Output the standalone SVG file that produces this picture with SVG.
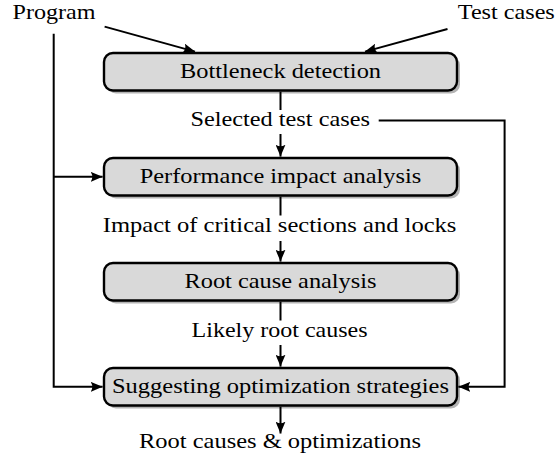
<svg xmlns="http://www.w3.org/2000/svg" width="556" height="460" viewBox="0 0 556 460">
<style>
.box{fill:#d9d9d9;stroke:#000;stroke-width:2.4}
.shadow{fill:#b3b3b3}
text{font-family:'Liberation Serif','DejaVu Serif',serif;font-size:21.5px;fill:#000;text-anchor:middle}
.c{fill:none;stroke:#000;stroke-width:2}
.a{marker-end:url(#ah)}
</style>
<defs>
<marker id="ah" viewBox="0 0 12 10" refX="12" refY="5" markerWidth="12" markerHeight="10" markerUnits="userSpaceOnUse" orient="auto">
<path d="M0,0 Q3.5,5 0,10 L12,5 Z" fill="#000"/>
</marker>
</defs>
<rect width="556" height="460" fill="#fff"/>
<g id="inputs">
<text x="54" y="18.5" textLength="83" lengthAdjust="spacingAndGlyphs">Program</text>
<text x="506.3" y="18.5" textLength="97" lengthAdjust="spacingAndGlyphs">Test cases</text>
</g>
<g id="n1">
<rect class="shadow" x="107" y="56" width="353" height="37.5" rx="9"/>
<rect class="box" x="104" y="53" width="353" height="37.5" rx="9"/>
<text x="280.5" y="77.5" textLength="201" lengthAdjust="spacingAndGlyphs">Bottleneck detection</text>
</g>
<g id="n2">
<rect class="shadow" x="107" y="161" width="353" height="37.5" rx="9"/>
<rect class="box" x="104" y="158" width="353" height="37.5" rx="9"/>
<text x="280.5" y="182.5" textLength="281.6" lengthAdjust="spacingAndGlyphs">Performance impact analysis</text>
</g>
<g id="n3">
<rect class="shadow" x="107" y="266" width="353" height="37.5" rx="9"/>
<rect class="box" x="104" y="263" width="353" height="37.5" rx="9"/>
<text x="280.5" y="287.5" textLength="192" lengthAdjust="spacingAndGlyphs">Root cause analysis</text>
</g>
<g id="n4">
<rect class="shadow" x="107" y="371" width="353" height="37.5" rx="9"/>
<rect class="box" x="104" y="368" width="353" height="37.5" rx="9"/>
<text x="280.5" y="392.5" textLength="337" lengthAdjust="spacingAndGlyphs">Suggesting optimization strategies</text>
</g>
<g id="labels">
<text x="280.2" y="126" textLength="179.5" lengthAdjust="spacingAndGlyphs">Selected test cases</text>
<text x="279.6" y="232" textLength="353.6" lengthAdjust="spacingAndGlyphs">Impact of critical sections and locks</text>
<text x="279.6" y="337" textLength="176" lengthAdjust="spacingAndGlyphs">Likely root causes</text>
<text x="280" y="448" textLength="282" lengthAdjust="spacingAndGlyphs">Root causes &amp; optimizations</text>
</g>
<g id="connectors">
<line class="c a" x1="104.6" y1="26.6" x2="195" y2="51.6"/>
<line class="c a" x1="447.5" y1="29" x2="365" y2="51.6"/>
<line class="c" x1="280.5" y1="91.7" x2="280.5" y2="110"/>
<line class="c a" x1="280.5" y1="134" x2="280.5" y2="156.6"/>
<line class="c" x1="280.5" y1="196.7" x2="280.5" y2="215.5"/>
<line class="c a" x1="280.5" y1="241" x2="280.5" y2="261.6"/>
<line class="c" x1="280.5" y1="301.7" x2="280.5" y2="320.5"/>
<line class="c a" x1="280.5" y1="345" x2="280.5" y2="366.6"/>
<line class="c a" x1="280.5" y1="406.7" x2="280.5" y2="433.5"/>
<polyline class="c a" points="53.7,33.7 53.7,386.8 102.6,386.8"/>
<line class="c a" x1="53.7" y1="176.8" x2="102.6" y2="176.8"/>
<polyline class="c a" points="378.7,120.6 504.6,120.6 504.6,386.8 458.4,386.8"/>
</g>
</svg>
